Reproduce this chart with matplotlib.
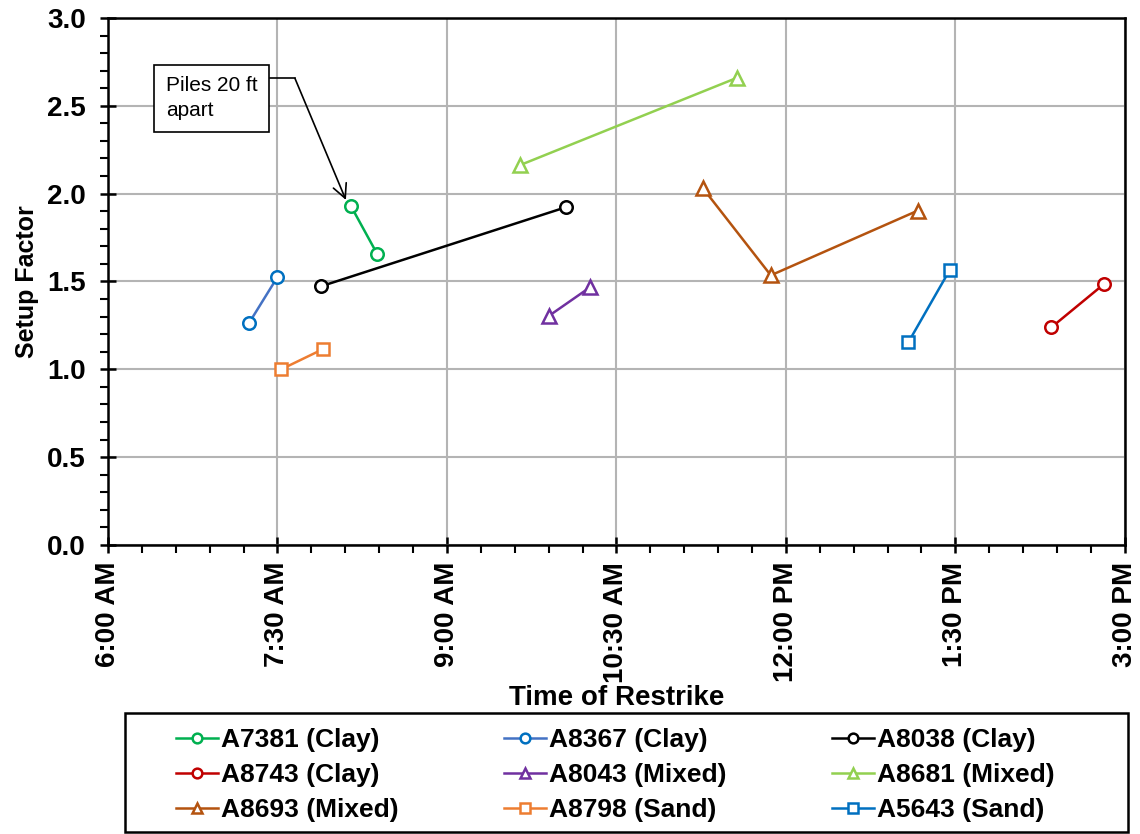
import matplotlib
matplotlib.use("Agg")
import matplotlib.pyplot as plt
from matplotlib.ticker import MultipleLocator, FuncFormatter
from matplotlib.patches import Rectangle

plt.rcParams['font.family'] = ['Liberation Sans', 'DejaVu Sans']

# restrike times and setup factors per pile
a7381_t = ["8:09", "8:23"]
a7381_sf = [1.93, 1.656]
a8367_t = ["7:15", "7:30"]
a8367_sf = [1.265, 1.525]
a8038_t = ["7:53", "10:03"]
a8038_sf = [1.472, 1.922]
a8743_t = ["14:21", "14:49"]
a8743_sf = [1.239, 1.486]
a8043_t = ["9:54", "10:16"]
a8043_sf = [1.303, 1.467]
a8681_t = ["9:39", "11:34"]
a8681_sf = [2.163, 2.659]
a8693_t = ["11:16", "11:52", "13:10"]
a8693_sf = [2.03, 1.535, 1.903]
a8798_t = ["7:32", "7:54"]
a8798_sf = [1.0, 1.114]
a5643_t = ["13:05", "13:27"]
a5643_sf = [1.153, 1.565]

labels = ["A7381 (Clay)", "A8367 (Clay)", "A8038 (Clay)",
          "A8743 (Clay)", "A8043 (Mixed)", "A8681 (Mixed)",
          "A8693 (Mixed)", "A8798 (Sand)", "A5643 (Sand)"]


def hours(times):
    out = []
    for t in times:
        h, m = t.split(":")
        out.append(int(h) + int(m) / 60.0)
    return out


def fmt_time(x, pos):
    total = int(round(x * 60))
    h, m = divmod(total, 60)
    ampm = "AM" if h < 12 else "PM"
    h12 = h % 12
    if h12 == 0:
        h12 = 12
    return "%d:%02d %s" % (h12, m, ampm)


series = [
    (a7381_t, a7381_sf, "#00B050", "#00B050", "o"),
    (a8367_t, a8367_sf, "#4472C4", "#0070C0", "o"),
    (a8038_t, a8038_sf, "#000000", "#000000", "o"),
    (a8743_t, a8743_sf, "#C00000", "#C00000", "o"),
    (a8043_t, a8043_sf, "#7030A0", "#7030A0", "^"),
    (a8681_t, a8681_sf, "#92D050", "#92D050", "^"),
    (a8693_t, a8693_sf, "#B4530F", "#B4530F", "^"),
    (a8798_t, a8798_sf, "#ED7D31", "#ED7D31", "s"),
    (a5643_t, a5643_sf, "#0070C0", "#0070C0", "s"),
]
marker_size = {"o": 9, "^": 10, "s": 9}

fig = plt.figure(figsize=(11.4, 8.34), dpi=100)
ax = fig.add_axes([0.0947, 0.3465, 0.892, 0.632])

handles = []
for (t, sf, lc, mc, mk), lab in zip(series, labels):
    ln, = ax.plot(hours(t), sf, color=lc, lw=1.8, marker=mk, ms=marker_size[mk],
                  mfc="white", mec=mc, mew=1.8, label=lab, zorder=3)
    handles.append(ln)

ax.set_xlim(6, 15)
ax.set_ylim(0, 3)
ax.xaxis.set_major_locator(MultipleLocator(1.5))
ax.xaxis.set_minor_locator(MultipleLocator(0.3))
ax.xaxis.set_major_formatter(FuncFormatter(fmt_time))
ax.yaxis.set_major_locator(MultipleLocator(0.5))
ax.yaxis.set_minor_locator(MultipleLocator(0.1))
ax.yaxis.set_major_formatter(FuncFormatter(lambda v, p: "%.1f" % v))

ax.grid(True, which="major", color="#B4B4B4", lw=1.5, zorder=0)
for s in ax.spines.values():
    s.set_linewidth(1.8)
    s.set_color("black")
    s.set_zorder(4)

ax.tick_params(axis="both", which="major", direction="inout", length=12, width=1.8)
ax.tick_params(axis="both", which="minor", direction="out", length=6, width=1.5)
ax.tick_params(axis="x", labelrotation=90, pad=6)
ax.tick_params(axis="y", pad=10)
for lbl in ax.get_xticklabels() + ax.get_yticklabels():
    lbl.set_fontsize(20)
    lbl.set_fontweight("bold")

ax.set_xlabel("Time of Restrike", fontsize=20, fontweight="bold", labelpad=2)
ax.set_ylabel("Setup Factor", fontsize=18, fontweight="bold", labelpad=6)

# callout box with leader arrow
ax.text(6.513, 2.544, "Piles 20 ft\napart", fontsize=15, va="center", ha="left",
        linespacing=1.4, zorder=5,
        bbox=dict(boxstyle="square,pad=0.55", fc="white", ec="black", lw=1.2))
ax.plot([7.43, 7.655], [2.656, 2.656], color="black", lw=1.2, zorder=5)
ax.annotate("", xy=(8.106, 1.964), xytext=(7.655, 2.656),
            arrowprops=dict(arrowstyle="->", color="black", lw=1.2,
                            mutation_scale=25, shrinkA=0, shrinkB=0),
            zorder=5)

# legend, filled row by row, inside a full-width frame
order = [0, 3, 6, 1, 4, 7, 2, 5, 8]
leg = fig.legend([handles[i] for i in order], [labels[i] for i in order],
                 ncol=3, loc="center",
                 bbox_to_anchor=(615 / 1140, 1 - 775 / 834),
                 frameon=False,
                 prop={"size": 19, "weight": "bold"},
                 handlelength=1.6, handletextpad=0.1, borderaxespad=0,
                 labelspacing=0.42, columnspacing=4.0, borderpad=0.3)
for h in leg.legend_handles:
    h.set_markersize(7)
fig.patches.append(Rectangle((125 / 1140, 2 / 834), 1003 / 1140, 119 / 834,
                             transform=fig.transFigure, fill=False,
                             ec="black", lw=1.8))

fig.savefig("out.png", dpi=100)
